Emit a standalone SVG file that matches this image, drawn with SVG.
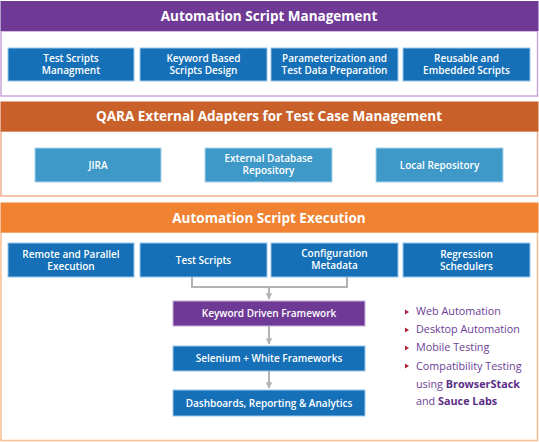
<svg xmlns="http://www.w3.org/2000/svg" width="539" height="442" viewBox="0 0 539 442">
<defs>
<style>
.hdr{font-family:"Open Sans","Noto Sans",sans-serif;font-weight:700;font-size:13.5px;fill:#fff;text-anchor:middle}
.bt{font-family:"Open Sans","Noto Sans",sans-serif;font-weight:600;font-size:10px;fill:#fff;text-anchor:middle}
.dk{fill:#1570b8;stroke:#9cc6e8;stroke-width:1}
.lt{fill:#3e99c9;stroke:#a9d3ea;stroke-width:1}
.pu{fill:#6f3a96;stroke:#c9b0dc;stroke-width:1}
.bl{font-family:"Open Sans","Noto Sans",sans-serif;font-size:10.8px;fill:#6b3d96}
.blb{font-weight:700;fill:#5b2d86}
.con{fill:none;stroke:#b3b3b3;stroke-width:2}
</style>
<marker id="ah" viewBox="0 0 10 10" refX="9" refY="5" markerWidth="3.2" markerHeight="3.2" orient="auto"><path d="M0,0L10,5L0,10z" fill="#b3b3b3"/></marker>
</defs>
<rect width="539" height="442" fill="#fff"/>

<g id="panel-management">
<rect x="1" y="31" width="536.5" height="65" fill="#fff" stroke="#c9a6dc" stroke-width="1.5"/>
<rect x="0.5" y="1" width="538" height="30" fill="#6f3a96"/>
<text class="hdr" x="269" y="21">Automation Script Management</text>
</g>
<g id="n-test-scripts-mgmt"><rect class="dk" x="8" y="48" width="126" height="33"/><text class="bt" x="71" y="61.5">Test Scripts</text><text class="bt" x="71" y="74">Managment</text></g>
<g id="n-keyword-design"><rect class="dk" x="140" y="48" width="127" height="33"/><text class="bt" x="203.5" y="61.5">Keyword Based</text><text class="bt" x="203.5" y="74">Scripts Design</text></g>
<g id="n-param"><rect class="dk" x="271" y="48" width="127" height="33"/><text class="bt" x="334.5" y="61.5">Parameterization and</text><text class="bt" x="334.5" y="74">Test Data Preparation</text></g>
<g id="n-reusable"><rect class="dk" x="403" y="48" width="127" height="33"/><text class="bt" x="466.5" y="61.5">Reusable and</text><text class="bt" x="466.5" y="74">Embedded Scripts</text></g>

<g id="panel-adapters">
<rect x="1" y="131" width="536.5" height="65" fill="#fff" stroke="#eeb08e" stroke-width="1.5"/>
<rect x="0.5" y="101.5" width="538" height="30" fill="#c9602a"/>
<text class="hdr" x="269" y="121">QARA External Adapters for Test Case Management</text>
</g>
<g id="n-jira"><rect class="lt" x="35" y="148" width="126" height="34"/><text class="bt" x="98" y="168.5">JIRA</text></g>
<g id="n-extdb"><rect class="lt" x="205" y="148" width="127" height="34"/><text class="bt" x="268.5" y="161.5">External Database</text><text class="bt" x="268.5" y="174">Repository</text></g>
<g id="n-local"><rect class="lt" x="376" y="148" width="127" height="34"/><text class="bt" x="439.5" y="168.5">Local Repository</text></g>

<g id="panel-execution">
<rect x="1" y="232" width="536.5" height="208.5" fill="#fff" stroke="#f7bf92" stroke-width="1.5"/>
<rect x="0.5" y="202.5" width="538" height="30" fill="#f08232"/>
<text class="hdr" x="269" y="223">Automation Script Execution</text>
</g>
<g id="n-remote"><rect class="dk" x="8" y="243" width="126" height="34"/><text class="bt" x="71" y="257.5">Remote and Parallel</text><text class="bt" x="71" y="270">Execution</text></g>
<g id="n-test-scripts"><rect class="dk" x="140" y="243" width="127" height="34"/><text class="bt" x="203.5" y="263.5">Test Scripts</text></g>
<g id="n-config"><rect class="dk" x="271" y="243" width="127" height="34"/><text class="bt" x="334.5" y="256.5">Configuration</text><text class="bt" x="334.5" y="269">Metadata</text></g>
<g id="n-regression"><rect class="dk" x="403" y="243" width="127" height="34"/><text class="bt" x="466.5" y="257.5">Regression</text><text class="bt" x="466.5" y="270">Schedulers</text></g>
<g id="n-keyword-fw"><rect class="pu" x="173" y="301" width="192" height="25"/><text class="bt" x="269" y="316.5">Keyword Driven Framework</text></g>
<g id="n-selenium"><rect class="dk" x="173" y="346" width="192" height="25"/><text class="bt" x="269" y="361.5">Selenium + White Frameworks</text></g>
<g id="n-dashboards"><rect class="dk" x="173" y="390" width="192" height="26"/><text class="bt" x="269" y="406.5">Dashboards, Reporting &amp; Analytics</text></g>

<g id="connectors">
<path class="con" d="M192,277V287H347V277"/>
<path class="con" d="M269,287V299" marker-end="url(#ah)"/>
<path class="con" d="M269,326V344" marker-end="url(#ah)"/>
<path class="con" d="M269,371V388" marker-end="url(#ah)"/>
</g>

<g id="features">
<g fill="#b5203f">
<path d="M405,309.5l4,2.5l-4,2.5z"/>
<path d="M405,327.5l4,2.5l-4,2.5z"/>
<path d="M405,345.5l4,2.5l-4,2.5z"/>
<path d="M405,363.5l4,2.5l-4,2.5z"/>
</g>
<text class="bl" x="416" y="315">Web Automation</text>
<text class="bl" x="416" y="333">Desktop Automation</text>
<text class="bl" x="416" y="351">Mobile Testing</text>
<text class="bl" x="416" y="370">Compatibility Testing</text>
<text class="bl" x="416" y="388">using <tspan class="blb">BrowserStack</tspan></text>
<text class="bl" x="416" y="405">and <tspan class="blb">Sauce Labs</tspan></text>
</g>
</svg>
